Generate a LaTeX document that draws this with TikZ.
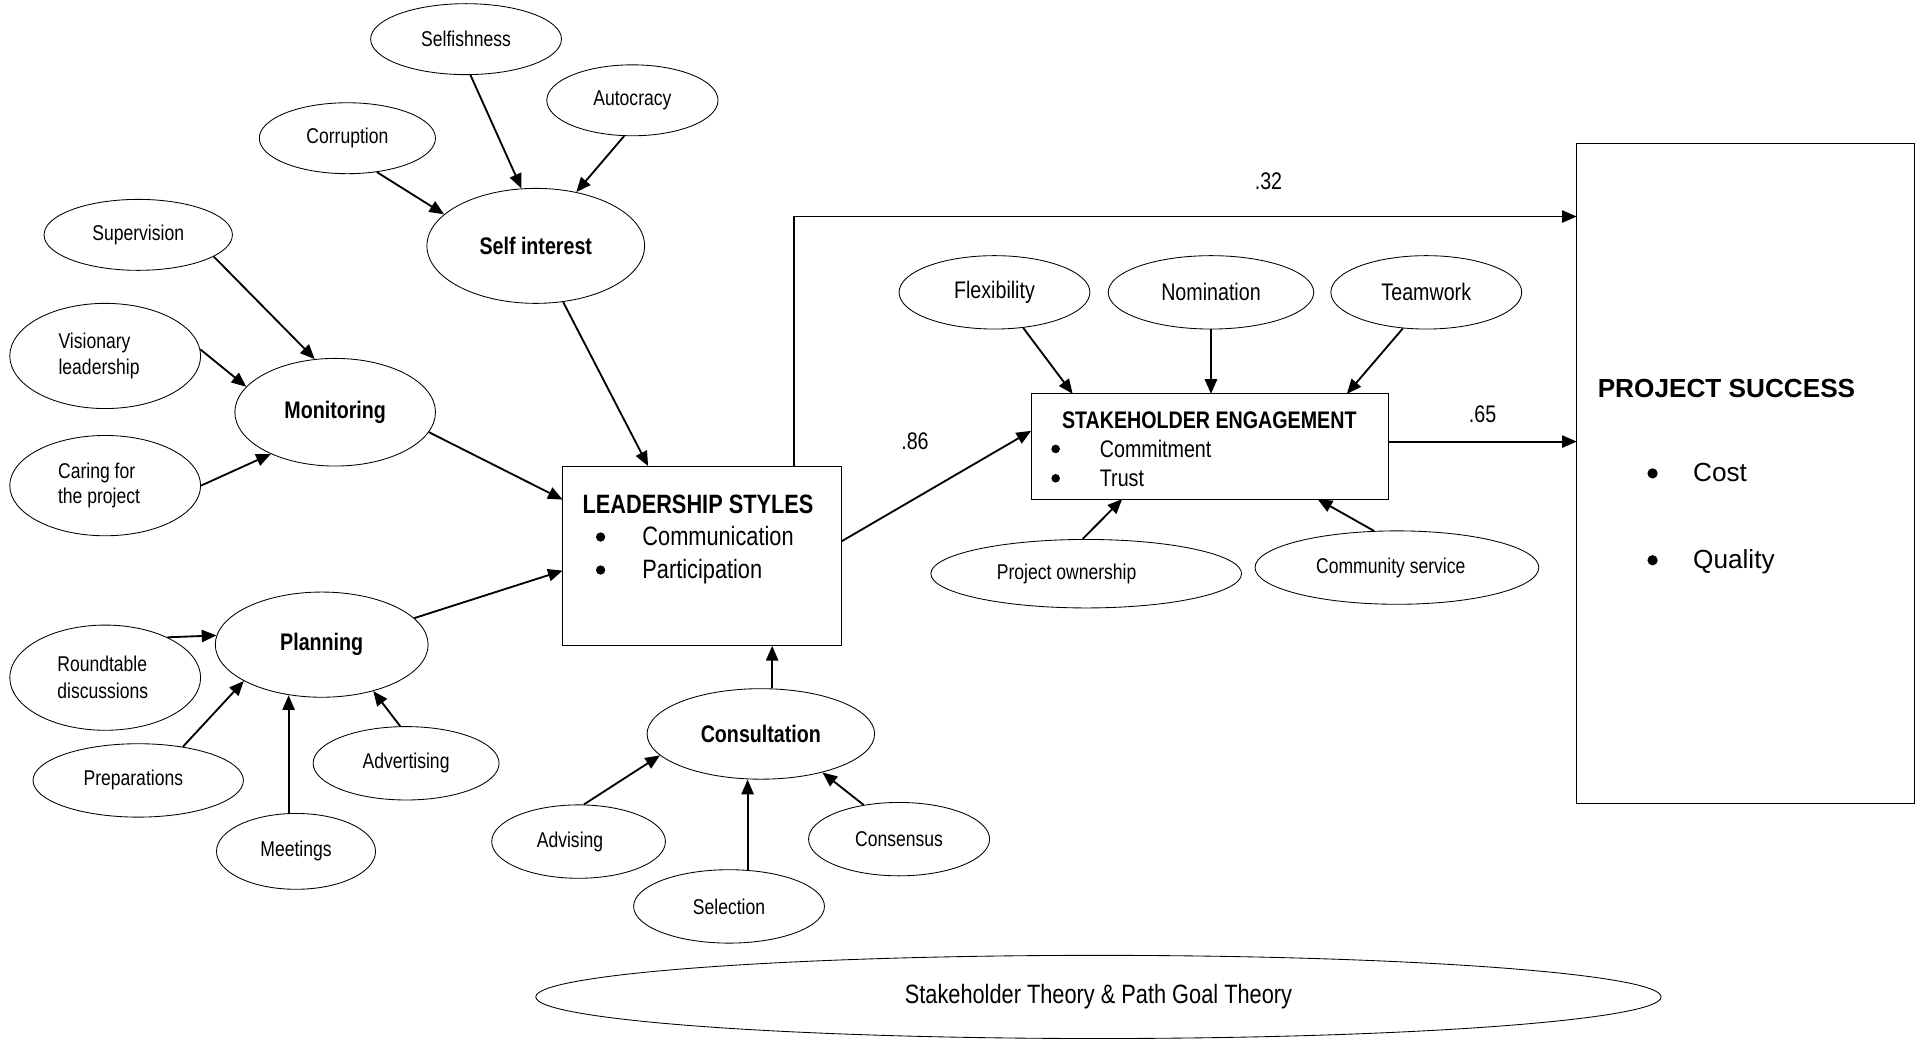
\documentclass[tikz,border=0pt]{standalone}
\usepackage{fontspec}
\setmainfont{Liberation Sans}
\newfontfamily\narrowfont{Liberation Sans}[FakeStretch=0.82]
\usetikzlibrary{shapes.geometric,arrows.meta}

\tikzset{
  oval/.style={ellipse, draw, line width=0.7pt, inner sep=0pt,
    font=\narrowfont\fontsize{17.5}{22}\selectfont, align=left},
  ovalmid/.style={oval, font=\narrowfont\fontsize{19.6}{23}\selectfont},
  ovalbold/.style={oval, font=\narrowfont\bfseries\fontsize{19.6}{23}\selectfont},
  frame/.style={draw, rectangle, line width=0.9pt, inner sep=0pt, outer sep=0pt},
  arr/.style={line width=1.5pt, -{Triangle[length=12pt,width=10pt]}},
  boxtitle/.style={anchor=base west, inner sep=0pt, font=\narrowfont\bfseries\fontsize{21.7}{26}\selectfont},
  boxitem/.style={anchor=base west, inner sep=0pt, font=\narrowfont\fontsize{21.7}{26}\selectfont},
  dot/.style={circle, fill, inner sep=0pt, minimum size=7.6pt},
  coef/.style={inner sep=0pt, font=\narrowfont\fontsize{19.6}{23}\selectfont}
}

\begin{document}
\begin{tikzpicture}[x=1pt, y=-1pt]
\useasboundingbox (0,0) rectangle (1568,849);
\clip (0,0) rectangle (1568,849);

% ---- Self interest cluster
\node[oval, minimum width=156, minimum height=58] (selfish) at (381,32) {Selfishness};
\node[oval, minimum width=140, minimum height=58] (autoc) at (517,82) {Autocracy};
\node[oval, minimum width=144, minimum height=58] (corrupt) at (284,113) {Corruption};
\node[ovalbold, minimum width=178, minimum height=94] (selfint) at (438,201) {Self interest};

% ---- Monitoring cluster
\node[oval, minimum width=154, minimum height=58] (superv) at (113,192) {Supervision};
\node[oval, minimum width=156, minimum height=86] (vision) at (86,291) {Visionary\\leadership\hspace*{10pt}};
\node[oval, minimum width=156, minimum height=82] (caring) at (86,397) {\raisebox{-4pt}{\shortstack[l]{Caring for\\[1pt]the project}}\hspace*{10pt}};
\node[ovalbold, minimum width=164, minimum height=88] (monit) at (274,337) {Monitoring};

% ---- Planning cluster
\node[ovalbold, minimum width=174, minimum height=86] (plan) at (263,527) {Planning};
\node[oval, minimum width=156, minimum height=86] (round) at (86,554) {Roundtable\\discussions\hspace*{4pt}};
\node[oval, minimum width=172, minimum height=60] (prep) at (113,638) {Preparations\hspace*{8pt}};
\node[oval, minimum width=152, minimum height=60] (advert) at (332,624) {Advertising};
\node[oval, minimum width=130, minimum height=62] (meet) at (242,696) {Meetings};

% ---- Consultation cluster
\node[ovalbold, minimum width=186, minimum height=74] (consult) at (622,600) {Consultation};
\node[oval, minimum width=142, minimum height=60] (advise) at (473,688) {Advising\hspace*{14pt}};
\node[oval, minimum width=156, minimum height=60] (select) at (596,741) {Selection};
\node[oval, minimum width=148, minimum height=60] (consens) at (735,686) {Consensus};

% ---- Leadership styles
\node[frame, minimum width=228, minimum height=147] (ls) at (574,454.5) {};
\node[boxtitle] (lstitle) at (476,420) {LEADERSHIP STYLES};
\node[dot] (lsdota) at (491,439) {};
\node[boxitem] (lsitema) at (525,446) {Communication};
\node[dot] (lsdotb) at (491,466) {};
\node[boxitem] (lsitemb) at (525,473) {Participation};

% ---- Stakeholder engagement
\node[frame, minimum width=292, minimum height=86] (se) at (989,365) {};
\node[boxtitle, font=\narrowfont\bfseries\fontsize{19.6}{23}\selectfont] (setitle) at (868,350) {STAKEHOLDER ENGAGEMENT};
\node[dot, minimum size=7pt] (sedota) at (863,367) {};
\node[boxitem, font=\narrowfont\fontsize{19.6}{23}\selectfont] (seitema) at (899,374) {Commitment};
\node[dot, minimum size=7pt] (sedotb) at (863,391) {};
\node[boxitem, font=\narrowfont\fontsize{19.6}{23}\selectfont] (seitemb) at (899,398) {Trust};

\node[ovalmid, minimum width=156, minimum height=60] (flex) at (813,239) {Flexibility};
\node[ovalmid, minimum width=168, minimum height=60] (nomin) at (990,239) {Nomination};
\node[ovalmid, minimum width=156, minimum height=60] (team) at (1166,239) {Teamwork};
\node[oval, minimum width=254, minimum height=56] (owner) at (888,469) {Project ownership\hspace*{32pt}};
\node[oval, minimum width=232, minimum height=60] (commun) at (1142,464) {Community service\hspace*{10pt}};

% ---- Project success
\node[frame, minimum width=276, minimum height=540] (ps) at (1427,387) {};
\node[boxtitle, font=\bfseries\fontsize{21.4}{26}\selectfont] (pstitle) at (1306,325) {PROJECT SUCCESS};
\node[dot, minimum size=8.4pt] (psdota) at (1351,387) {};
\node[boxitem, font=\fontsize{21.4}{26}\selectfont] (psitema) at (1384,394) {Cost};
\node[dot, minimum size=8.4pt] (psdotb) at (1351,458) {};
\node[boxitem, font=\fontsize{21.4}{26}\selectfont] (psitemb) at (1384,465) {Quality};

% ---- Theories
\node[oval, font=\narrowfont\fontsize{21.7}{26}\selectfont, minimum width=920, minimum height=68] (theory) at (898,815) {Stakeholder Theory \& Path Goal Theory};

% ---- Path coefficients
\node[coef] (c32) at (1037,148) {.32};
\node[coef] (c86) at (748,361) {.86};
\node[coef] (c65) at (1212,339) {.65};

% ---- Connectors
\draw[arr] (selfish.277) -- (selfint.104);
\draw[arr] (autoc.257) -- (selfint.53);
\draw[arr] (corrupt.311) -- (selfint.161);
\draw[arr] (selfint.296) -- (ls.121);

\draw[arr] (superv.344) -- (monit.111);
\draw[arr] (vision.4) -- (monit.164);
\draw[arr] (caring.0) -- (monit.213);
\draw[arr] (monit.348) -- (ls.158);

\draw[arr] (plan.16) -- (ls.186);
\draw[arr] (round.33) -- (plan.175);
\draw[arr] (prep.37) -- (plan.205);
\draw[arr] (meet.101) -- (meet.101 |- plan.238);
\draw[arr] (advert.99) -- (plan.318);

\draw[arr] (consult.76) -- (consult.76 |- ls.south);
\draw[arr] (advise.82) -- (consult.192);
\draw[arr] (select.63) -- (select.63 |- consult.south);
\draw[arr] (consens.136) -- (consult.328);

\draw[arr] (ls.6) -- (se.175);
\draw[arr] ([xshift=75pt]ls.north) |- ([yshift=-60pt]ps.north west);
\draw[arr] ([yshift=4pt]se.east) -- ([yshift=4pt]se.east -| ps.west);

\draw[arr] (flex.309) -- (se.159);
\draw[arr] (nomin.south) -- (nomin.south |- se.north);
\draw[arr] (team.237) -- (se.21);
\draw[arr] (owner.96) -- (se.211);
\draw[arr] (commun.122) -- (se.334);
\end{tikzpicture}
\end{document}
